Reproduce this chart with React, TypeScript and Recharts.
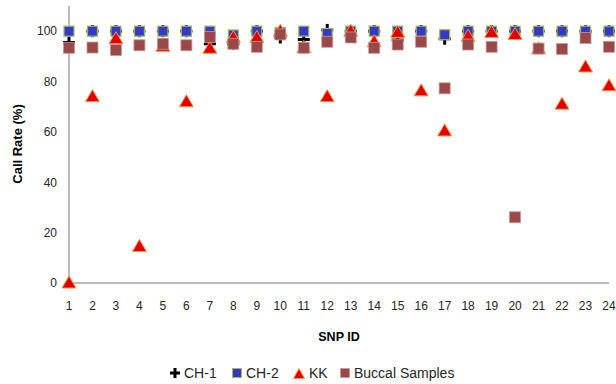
import React from "react";
import { ScatterChart, Scatter, XAxis, YAxis } from "recharts";

const snpIds = [1, 2, 3, 4, 5, 6, 7, 8, 9, 10, 11, 12, 13, 14, 15, 16, 17, 18, 19, 20, 21, 22, 23, 24];
const yTicks = [0, 20, 40, 60, 80, 100];
const ch1 = [95.5, 100, 100, 100, 100, 100, 95, 95, 100, 97.5, 96.7, 100.5, 100, 100, 96.5, 100, 97, 100, 100, 100, 100, 100, 100, 100];
const ch2 = [100, 100, 100, 100, 100, 100, 100, 98.5, 100, 99.5, 100, 99.1, 100, 100, 100, 100, 98.6, 100, 100, 100, 100, 100, 100, 100];
const kk = [0, 74, 97, 14.5, 94, 72, 93.2, 97.5, 97.5, 100, 93.5, 74, 100, 95.8, 99.5, 76.3, 60.4, 98, 99.5, 98.7, 93, 71, 85.8, 78.3];
const buccal = [93.4, 93.5, 92.5, 94.4, 95, 94.4, 97.7, 95, 93.8, 98.7, 93.4, 95.8, 97.5, 93.4, 94.7, 95.8, 77.3, 94.7, 93.8, 26.1, 93.1, 92.9, 97.3, 93.8];
const seriesNames = ["CH-1", "CH-2", "KK", "Buccal Samples"];

const toPoints = (vals: number[]) => snpIds.map((id, i) => ({ x: id, y: vals[i] }));

const BLUE = "#3838C8";
const BLUE_EDGE = "#9BBB59";
const BROWN = "#9B4848";
const BROWN_EDGE = "#C49A9A";
const RED = "#E00000";
const RED_EDGE = "#F79646";

const PlusShape = (p: any) => {
  const { cx, cy } = p;
  if (cx == null || cy == null) return null;
  return (
    <g>
      <rect x={cx - 6} y={cy - 1.5} width={12} height={3} fill="#000" />
      <rect x={cx - 1.5} y={cy - 6} width={3} height={12} fill="#000" />
    </g>
  );
};
const BlueSquare = (p: any) => {
  const { cx, cy } = p;
  if (cx == null || cy == null) return null;
  return <rect x={cx - 5} y={cy - 5} width={10} height={10} fill={BLUE} stroke={BLUE_EDGE} strokeWidth={1.2} />;
};
const RedTriangle = (p: any) => {
  const { cx, cy } = p;
  if (cx == null || cy == null) return null;
  return (
    <polygon
      points={`${cx},${cy - 7} ${cx + 7},${cy + 5} ${cx - 7},${cy + 5}`}
      fill={RED}
      stroke={RED_EDGE}
      strokeWidth={1}
    />
  );
};
const BrownSquare = (p: any) => {
  const { cx, cy } = p;
  if (cx == null || cy == null) return null;
  return <rect x={cx - 5.5} y={cy - 5.5} width={11} height={11} fill={BROWN} stroke={BROWN_EDGE} strokeWidth={0.8} />;
};

const legendIcon = (i: number) => {
  if (i === 0)
    return (
      <svg width={10} height={10}>
        <rect x={0} y={3.5} width={10} height={3} fill="#000" />
        <rect x={3.5} y={0} width={3} height={10} fill="#000" />
      </svg>
    );
  if (i === 1)
    return (
      <svg width={10} height={10}>
        <rect x={0.5} y={0.5} width={9} height={9} fill={BLUE} stroke={BLUE_EDGE} strokeWidth={1} />
      </svg>
    );
  if (i === 2)
    return (
      <svg width={12} height={11}>
        <polygon points="6,0.5 11.5,10.5 0.5,10.5" fill={RED} stroke={RED_EDGE} strokeWidth={1} />
      </svg>
    );
  return (
    <svg width={10} height={10}>
      <rect x={0.5} y={0.5} width={9} height={9} fill={BROWN} stroke={BROWN_EDGE} strokeWidth={0.8} />
    </svg>
  );
};

const legendLeft = [170, 232, 293, 340];

export default function App() {
  const font = "'Liberation Sans', Arial, sans-serif";
  return (
    <div style={{ position: "relative", width: 616, height: 384, background: "#fff", fontFamily: font }}>
      <style>{`body{margin:0}`}</style>
      <ScatterChart width={616} height={384} margin={{ top: 6, right: 7, left: 29, bottom: 71 }}>
        <XAxis
          type="number"
          dataKey="x"
          domain={[1, 24]}
          ticks={snpIds}
          interval={0}
          tickSize={0}
          tickMargin={18}
          height={30}
          axisLine={{ stroke: "#A6A6A6", strokeWidth: 1.5 }}
          tick={{ fill: "#262626", fontSize: 12, fontFamily: font }}
          label={(props: any) => {
            const vb = props.viewBox;
            return (
              <text
                x={vb.x + vb.width / 2}
                y={341}
                textAnchor="middle"
                fontSize={12.5}
                fontWeight="bold"
                fill="#000"
                fontFamily={font}
              >
                SNP ID
              </text>
            );
          }}
        />
        <YAxis
          type="number"
          dataKey="y"
          domain={[0, 110]}
          ticks={yTicks}
          interval={0}
          tickSize={0}
          tickMargin={12}
          width={40}
          axisLine={{ stroke: "#A6A6A6", strokeWidth: 1.5 }}
          tick={{ fill: "#262626", fontSize: 12, fontFamily: font }}
          label={() => (
            <text
              x={22}
              y={144}
              transform="rotate(-90 22 144)"
              textAnchor="middle"
              fontSize={13}
              fontWeight="bold"
              fill="#000"
              fontFamily={font}
            >
              Call Rate (%)
            </text>
          )}
        />
        <Scatter name={seriesNames[0]} data={toPoints(ch1)} shape={PlusShape} isAnimationActive={false} />
        <Scatter name={seriesNames[1]} data={toPoints(ch2)} shape={BlueSquare} isAnimationActive={false} />
        <Scatter name={seriesNames[2]} data={toPoints(kk)} shape={RedTriangle} isAnimationActive={false} />
        <Scatter name={seriesNames[3]} data={toPoints(buccal)} shape={BrownSquare} isAnimationActive={false} />
      </ScatterChart>
      {seriesNames.map((n, i) => (
        <div
          key={n}
          style={{
            position: "absolute",
            left: legendLeft[i],
            top: 364,
            height: 18,
            display: "flex",
            alignItems: "center",
            gap: 4,
            fontSize: 14,
            color: "#262626",
            whiteSpace: "nowrap",
          }}
        >
          {legendIcon(i)}
          <span>{n}</span>
        </div>
      ))}
    </div>
  );
}
